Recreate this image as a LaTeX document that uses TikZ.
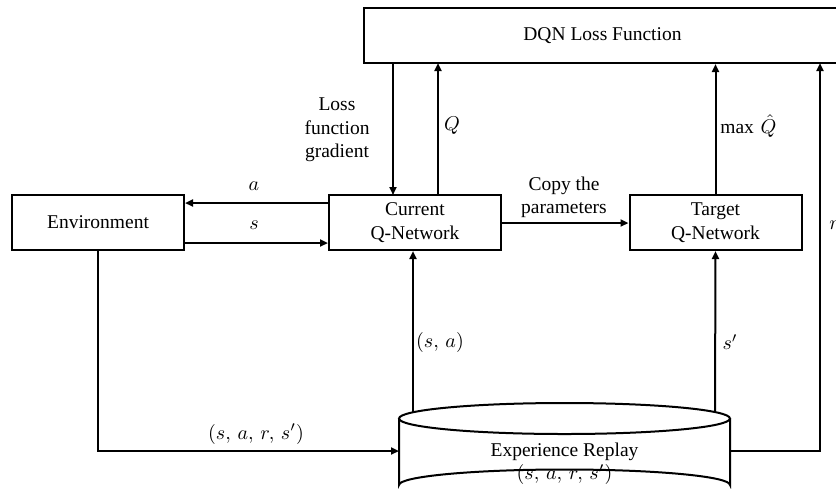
\documentclass[tikz,border=0pt]{standalone}
\usepackage{fontspec}
\setmainfont{Liberation Serif}
\usetikzlibrary{arrows.meta}
\begin{document}
\begin{tikzpicture}[x=0.5pt,y=-0.5pt,
  font=\fontsize{9.75}{11.7}\selectfont,
  box/.style={draw,line width=1pt,minimum width=86pt,minimum height=27.5pt,align=center,inner sep=0pt},
  conn/.style={line width=1pt,-{Triangle[length=4pt,width=3.5pt]}},
  lbl/.style={inner sep=0pt,align=center}]
\useasboundingbox (0,0) rectangle (836,495);
\clip (0,0) rectangle (836,495);
\fill[white] (0,0) rectangle (836,495);
% nodes
\node[box,minimum width=238.5pt] (dqn) at (602.5,35.5) {DQN Loss Function};
\node[box] (env) at (98,222.5) {Environment};
\node[box] (cur) at (415,222.5) {Current\\Q-Network};
\node[box] (tgt) at (715.5,222.5) {Target\\Q-Network};
% experience replay cylinder
\draw[line width=1pt,fill=white] (399,418.5) -- (399,485) arc[start angle=180,end angle=360,x radius=165.5,y radius=15.5] -- (730,418.5);
\draw[line width=1pt] (564.5,418.5) ellipse[x radius=165.5,y radius=15.5];
\node[lbl] (er) at (564.5,464) {Experience Replay\\$(s,\,a,\,r,\,s')$};
\coordinate (erw) at (399,451);
\coordinate (ere) at (730,451);
\coordinate (ertl) at (413,412.3);
\coordinate (ertr) at (715,412);
% connectors
\draw[conn] (cur.west |- 0,203) -- (env.east |- 0,203);
\draw[conn] (env.east |- 0,243) -- (cur.west |- 0,243);
\draw[conn] (393,63) coordinate (g1) -- (393,195);
\draw[conn] (438,195) -- (438,63);
\draw[conn] (cur.east |- 0,223) -- (tgt.west |- 0,223);
\draw[conn] (tgt.north) -- (tgt.north |- dqn.south);
\draw[conn] (ertr) -- (tgt.south);
\draw[conn] (ertl) -- (ertl |- cur.south);
\draw[conn] (ere) -- (820,451) -- (820,63);
\draw[conn] (env.south) -- (98,451) -- (erw);
% labels
\node[lbl] at (254,186) {$a$};
\node[lbl] at (254,225) {$s$};
\node[lbl,text width=60pt] at (337,130) {Loss\\function\\gradient};
\node[lbl] at (452,126) {$Q$};
\node[lbl] at (564,197) {Copy the\\parameters};
\node[lbl,anchor=west] at (720,126) {$\max\,\hat{Q}$};
\node[lbl] at (730,342) {$s'$};
\node[lbl] at (440,342) {$(s,\,a)$};
\node[lbl] at (256,434) {$(s,\,a,\,r,\,s')$};
\node[lbl,anchor=west] at (829,225) {$r$};
\end{tikzpicture}
\end{document}
